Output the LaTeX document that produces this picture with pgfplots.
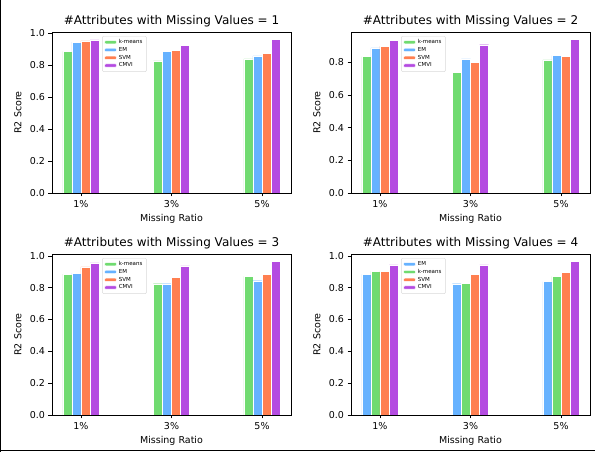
\documentclass[border=0pt]{standalone}
\usepackage{pgfplots}
\pgfplotsset{compat=1.18}
\usepackage{fontspec}
\setmainfont{DejaVu Sans}
\definecolor{ckm}{RGB}{112,219,112}
\definecolor{cem}{RGB}{102,178,255}
\definecolor{csvm}{RGB}{255,127,80}
\definecolor{ccmvi}{RGB}{180,75,225}
\pgfplotsset{
  myax/.style={
    scale only axis, width=239pt, height=161pt, anchor=south west,
    ybar=0pt, bar width=0.1,
    xmin=-0.32, xmax=2.32, ymin=0,
    xtick={0,1,2}, xticklabels={1\%,3\%,5\%},
    ytick={0,0.2,0.4,0.6,0.8,1.0},
    yticklabel style={/pgf/number format/.cd, fixed, fixed zerofill, precision=1, assume math mode=true},
    tick align=outside, major tick length=3.5pt,
    tick style={black, line width=0.6pt},
    axis line style={black, line width=0.7pt},
    xtick pos=bottom, ytick pos=left,
    ticklabel style={font=\fontsize{9.5}{11}\selectfont},
    title style={font=\fontsize{12}{14}\selectfont, at={(rel axis cs:0.5,1)}, anchor=south, yshift=-5pt},
    xlabel={Missing Ratio}, ylabel={R2 Score},
    label style={font=\fontsize{9.5}{11}\selectfont},
    xlabel style={at={(rel axis cs:0.5,0)}, anchor=center, yshift=-26pt},
    ylabel style={at={(rel axis cs:0,0.5)}, anchor=center, yshift=34pt},
    legend style={font=\fontsize{5.5}{5.8}\selectfont, at={(rel axis cs:0.21,0.975)}, anchor=north west,
      draw=black!15, rounded corners=1pt, inner xsep=2pt, inner ysep=1.2pt, row sep=-1.8pt, fill=white,
      nodes={inner xsep=2pt}},
    legend image code/.code={\fill[##1] (0pt,-1.6pt) rectangle (12pt,1.6pt);},
    legend cell align=left,
  },
  km/.style={fill=ckm, draw=white, line width=0.4pt},
  em/.style={fill=cem, draw=white, line width=0.4pt},
  svm/.style={fill=csvm, draw=white, line width=0.4pt},
  cmvi/.style={fill=ccmvi, draw=white, line width=0.4pt},
}
\begin{document}
\begin{tikzpicture}
\path[use as bounding box] (0,0) rectangle (595pt,452pt);
\draw[black, line width=1pt] (0.5pt,0pt) -- (0.5pt,452pt);
\draw[black, line width=1pt] (0pt,1.5pt) -- (595pt,1.5pt);
% Subplot 1
\begin{axis}[myax, at={(52pt,259pt)}, ymax=1.008, title={\#Attributes with Missing Values = 1}]
\addplot[km, bar shift=-0.15] coordinates {(0,0.886) (1,0.827) (2,0.840)};
\addplot[em, bar shift=-0.05] coordinates {(0,0.945) (1,0.886) (2,0.859)};
\addplot[svm, bar shift=0.05] coordinates {(0,0.952) (1,0.893) (2,0.874)};
\addplot[cmvi, bar shift=0.15] coordinates {(0,0.958) (1,0.926) (2,0.960)};
\legend{k-means,EM,SVM,CMVI}
\end{axis}
% Subplot 2
\begin{axis}[myax, at={(351pt,259pt)}, ymax=0.986, title={\#Attributes with Missing Values = 2}]
\addplot[km, bar shift=-0.15] coordinates {(0,0.835) (1,0.739) (2,0.816)};
\addplot[em, bar shift=-0.05] coordinates {(0,0.888) (1,0.822) (2,0.841)};
\addplot[svm, bar shift=0.05] coordinates {(0,0.900) (1,0.798) (2,0.835)};
\addplot[cmvi, bar shift=0.15] coordinates {(0,0.933) (1,0.908) (2,0.939)};
\legend{k-means,EM,SVM,CMVI}
\end{axis}
% Subplot 3
\begin{axis}[myax, at={(52pt,37pt)}, ymax=1.012, title={\#Attributes with Missing Values = 3}]
\addplot[km, bar shift=-0.15] coordinates {(0,0.886) (1,0.825) (2,0.872)};
\addplot[em, bar shift=-0.05] coordinates {(0,0.891) (1,0.825) (2,0.844)};
\addplot[svm, bar shift=0.05] coordinates {(0,0.931) (1,0.863) (2,0.884)};
\addplot[cmvi, bar shift=0.15] coordinates {(0,0.956) (1,0.937) (2,0.964)};
\legend{k-means,EM,SVM,CMVI}
\end{axis}
% Subplot 4
\begin{axis}[myax, at={(351pt,37pt)}, ymax=1.012, title={\#Attributes with Missing Values = 4}]
\addplot[em, bar shift=-0.15] coordinates {(0,0.884) (1,0.825) (2,0.838)};
\addplot[km, bar shift=-0.05] coordinates {(0,0.903) (1,0.829) (2,0.872)};
\addplot[svm, bar shift=0.05] coordinates {(0,0.903) (1,0.884) (2,0.897)};
\addplot[cmvi, bar shift=0.15] coordinates {(0,0.943) (1,0.943) (2,0.964)};
\legend{EM,k-means,SVM,CMVI}
\end{axis}
\end{tikzpicture}
\end{document}
